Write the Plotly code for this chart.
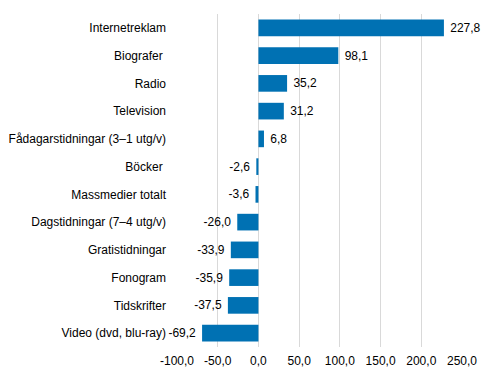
import plotly.graph_objects as go

categories = [
    "Internetreklam",
    "Biografer ",
    "Radio",
    "Television",
    "Fådagarstidningar (3–1 utg/v)",
    "Böcker ",
    "Massmedier totalt",
    "Dagstidningar (7–4 utg/v)",
    "Gratistidningar",
    "Fonogram",
    "Tidskrifter",
    "Video (dvd, blu-ray)",
]
values = [227.8, 98.1, 35.2, 31.2, 6.8, -2.6, -3.6, -26.0, -33.9, -35.9, -37.5, -69.2]
tick_vals = [-100, -50, 0, 50, 100, 150, 200, 250]
tick_text = ["-100,0", "-50,0", "0,0", "50,0", "100,0", "150,0", "200,0", "250,0"]

labels = []
for v in values:
    s = f"{v:.1f}".replace(".", ",")
    labels.append(" " + s if v >= 0 else s + " ")

fig = go.Figure(go.Bar(
    x=values,
    y=categories,
    orientation="h",
    marker=dict(color="#0071B3", line=dict(width=0)),
    width=0.6,
    text=labels,
    textposition="outside",
    constraintext="none",
    textfont=dict(size=12, color="#000000", family="Liberation Sans, Arial, sans-serif"),
    cliponaxis=False,
))

# page body has an 8px default margin, so the figure is 8px smaller and shifted
fig.update_layout(
    width=483,
    height=368,
    margin=dict(l=169, r=29, t=6, b=29, autoexpand=False),
    paper_bgcolor="white",
    plot_bgcolor="white",
    showlegend=False,
    font=dict(family="Liberation Sans, Arial, sans-serif", size=12, color="#000000"),
    xaxis=dict(
        range=[-100, 250],
        tickvals=tick_vals,
        ticktext=tick_text,
        showgrid=True,
        gridcolor="#D9D9D9",
        gridwidth=1,
        zeroline=True,
        zerolinecolor="#D9D9D9",
        zerolinewidth=1,
        showline=False,
        ticks="",
        automargin=False,
        ticklabelstandoff=5,
        tickfont=dict(size=12),
    ),
    yaxis=dict(
        autorange="reversed",
        showgrid=False,
        zeroline=False,
        showline=False,
        ticks="",
        automargin=False,
        ticklabelstandoff=10,
        tickfont=dict(size=12),
    ),
)

fig.write_html("out.html")
